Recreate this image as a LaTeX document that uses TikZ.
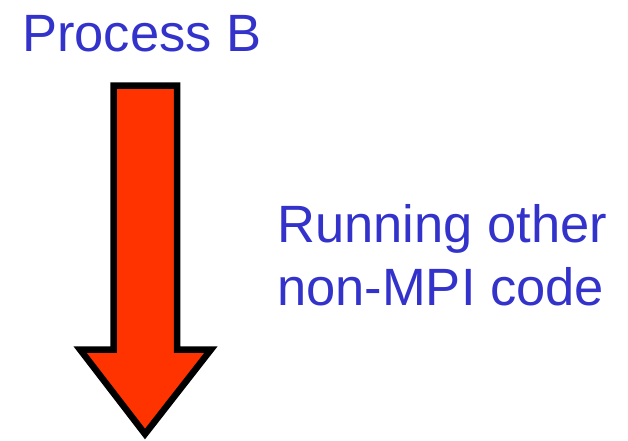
\documentclass[tikz,border=0pt]{standalone}
\usepackage{fontspec}
\setmainfont{Liberation Sans}
\usepackage{tikz}
\definecolor{labelblue}{RGB}{51,51,204}
\definecolor{arrowred}{RGB}{255,51,0}
\tikzset{
    biglabel/.style={text=labelblue, inner sep=0pt, anchor=base west, font=\fontsize{52.5}{63}\selectfont},
    blockarrow/.style={draw=black, line width=6.5pt, fill=arrowred, line join=miter}
}

\begin{document}
\begin{tikzpicture}[x=1pt,y=1pt]
    \useasboundingbox (0,0) rectangle (628,-440);
    \node[biglabel] (procb) at (22,-51) {Process B};
    % block arrow pointing down
    \draw[blockarrow] (113.5,-85.5) -- (177,-85.5) -- (177,-349.5) -- (211,-349.5)
        -- (145,-434) -- (80,-349.5) -- (113.5,-349.5) -- cycle;
    \node[biglabel] (running) at (277,-242) {Running other};
    \node[biglabel] (nonmpi) at (277,-305) {non-MPI code};
\end{tikzpicture}
\end{document}
